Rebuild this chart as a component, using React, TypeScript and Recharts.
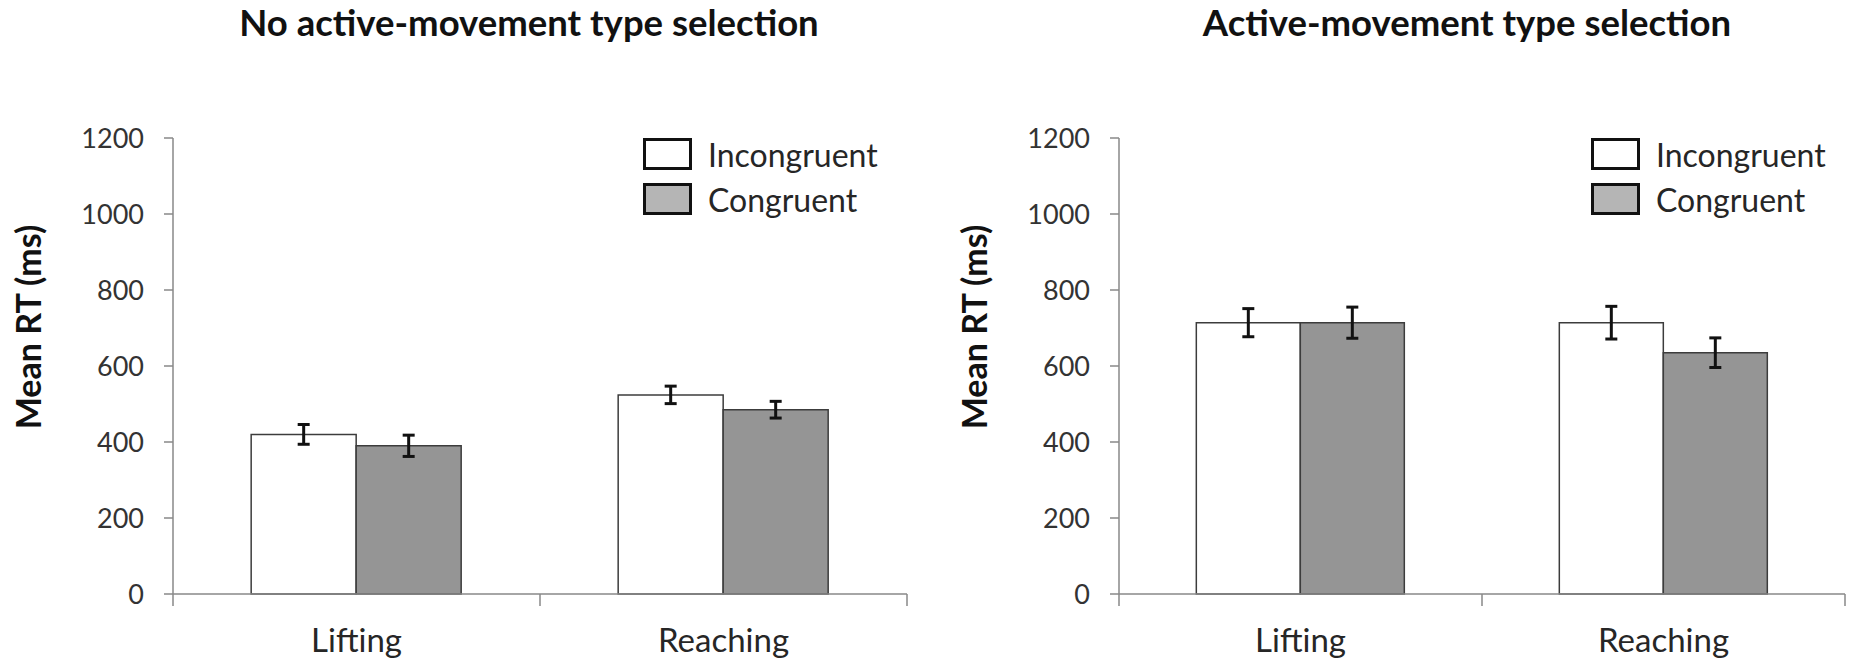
import { BarChart, Bar, XAxis, YAxis, ErrorBar, Label } from 'recharts';

const categories = ['Lifting', 'Reaching'];
const yTicks = [0, 200, 400, 600, 800, 1000, 1200];
const seriesNames = ['Incongruent', 'Congruent'];

// left panel: no active-movement type selection
const noSelIncongruent = [420, 524];
const noSelIncongruentErr = [26, 23];
const noSelCongruent = [390, 485];
const noSelCongruentErr = [28, 22];

// right panel: active-movement type selection
const selIncongruent = [714, 714];
const selIncongruentErr = [37, 43];
const selCongruent = [714, 635];
const selCongruentErr = [41, 39];

const FONT = 'Lato, "Open Sans", sans-serif';
const AXIS = '#898989';
const BAR_EDGE = '#3c3c3c';
const TEXT = '#262626';
const X_TICK = 12;
const legendFills = ['#ffffff', '#b5b5b5'];

function buildRows(inc: number[], incErr: number[], cong: number[], congErr: number[]) {
  return categories.map((name, i) => ({
    name,
    incongruent: inc[i],
    incErr: incErr[i],
    congruent: cong[i],
    congErr: congErr[i],
  }));
}

// Excel style: ticks sit on the category boundaries, label in the middle
function CategoryTick(props: any) {
  const { x, y, payload, index } = props;
  const half = payload && payload.offset ? payload.offset : 183;
  const last = index === categories.length - 1;
  return (
    <g>
      <line x1={x - half} y1={y - X_TICK} x2={x - half} y2={y} stroke={AXIS} strokeWidth={1.5} />
      {last && <line x1={x + half} y1={y - X_TICK} x2={x + half} y2={y} stroke={AXIS} strokeWidth={1.5} />}
      <text x={x} y={y + 46} textAnchor="middle" fontSize={33} fill={TEXT} fontFamily={FONT}>
        {payload.value}
      </text>
    </g>
  );
}

function YTitle(props: any) {
  const vb = props.viewBox || { x: 0, width: 173 };
  const axisX = vb.x + vb.width;
  return (
    <text
      transform={`translate(${axisX - 146}, 327) rotate(-90)`}
      textAnchor="middle"
      dominantBaseline="central"
      fontSize={34}
      fontWeight="bold"
      fill="#111"
      fontFamily={FONT}
    >
      Mean RT (ms)
    </text>
  );
}

function LegendBoxes({ left }: { left: number }) {
  return (
    <div style={{ position: 'absolute', left, top: 131.5, fontFamily: FONT, fontSize: 32, color: TEXT, zIndex: 2 }}>
      {seriesNames.map((n, i) => (
        <div key={n} style={{ display: 'flex', alignItems: 'center', height: 45 }}>
          <div
            style={{
              width: 49,
              height: 32,
              boxSizing: 'border-box',
              border: '3px solid #111',
              background: legendFills[i],
              marginRight: 16,
            }}
          />
          <span>{n}</span>
        </div>
      ))}
    </div>
  );
}

function Panel({
  left,
  title,
  titleCenter,
  axisLeft,
  rightMargin,
  legendLeft,
  rows,
}: {
  left: number;
  title: string;
  titleCenter: number;
  axisLeft: number;
  rightMargin: number;
  legendLeft: number;
  rows: ReturnType<typeof buildRows>;
}) {
  return (
    <div style={{ position: 'absolute', left, top: 0, width: 925, height: 667 }}>
      <div
        style={{
          position: 'absolute',
          left: titleCenter - 400,
          width: 800,
          top: 4,
          textAlign: 'center',
          fontFamily: FONT,
          fontWeight: 'bold',
          fontSize: 36.5,
          lineHeight: '36px',
          color: '#111',
          zIndex: 2,
        }}
      >
        {title}
      </div>
      <LegendBoxes left={legendLeft} />
      <BarChart
        width={925}
        height={667}
        data={rows}
        margin={{ top: 138, right: rightMargin, bottom: 13, left: 0 }}
        barCategoryGap="21.3%"
        barGap={0}
      >
        <XAxis
          dataKey="name"
          height={60}
          axisLine={{ stroke: AXIS, strokeWidth: 1.5 }}
          tickLine={false}
          tickSize={X_TICK}
          tickMargin={0}
          tick={<CategoryTick />}
          interval={0}
        />
        <YAxis
          width={axisLeft}
          domain={[0, 1200]}
          ticks={yTicks}
          interval={0}
          axisLine={{ stroke: AXIS, strokeWidth: 1.5 }}
          tickLine={{ stroke: AXIS, strokeWidth: 1.5 }}
          tickSize={9}
          tickMargin={20}
          tick={{ fontSize: 27, fill: '#333', fontFamily: FONT }}
        >
          <Label content={<YTitle />} />
        </YAxis>
        <Bar dataKey="incongruent" name="Incongruent" fill="#ffffff" stroke={BAR_EDGE} strokeWidth={1.5} isAnimationActive={false}>
          <ErrorBar dataKey="incErr" width={6} strokeWidth={3} stroke="#111" direction="y" isAnimationActive={false} />
        </Bar>
        <Bar dataKey="congruent" name="Congruent" fill="#959595" stroke={BAR_EDGE} strokeWidth={1.5} isAnimationActive={false}>
          <ErrorBar dataKey="congErr" width={6} strokeWidth={3} stroke="#111" direction="y" isAnimationActive={false} />
        </Bar>
      </BarChart>
    </div>
  );
}

export default function App() {
  return (
    <div style={{ position: 'absolute', left: 0, top: 0, width: 1850, height: 667, background: '#fff' }}>
      <Panel
        left={0}
        title="No active-movement type selection"
        titleCenter={529}
        axisLeft={173}
        rightMargin={18}
        legendLeft={643}
        rows={buildRows(noSelIncongruent, noSelIncongruentErr, noSelCongruent, noSelCongruentErr)}
      />
      <Panel
        left={925}
        title="Active-movement type selection"
        titleCenter={542}
        axisLeft={194}
        rightMargin={5}
        legendLeft={666}
        rows={buildRows(selIncongruent, selIncongruentErr, selCongruent, selCongruentErr)}
      />
    </div>
  );
}
